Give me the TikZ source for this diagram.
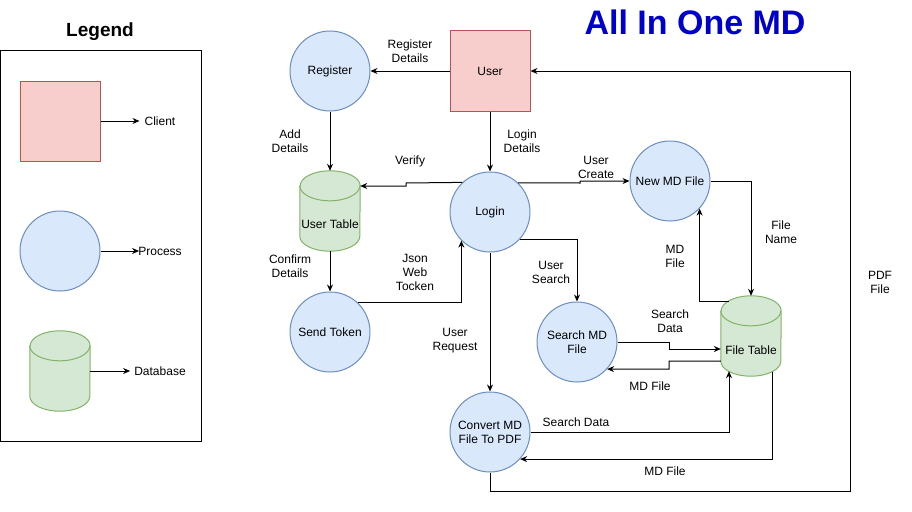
\documentclass[tikz,border=0pt]{standalone}
\usepackage{fontspec}
\setmainfont{Liberation Sans}
\usetikzlibrary{arrows.meta}
\definecolor{redfill}{HTML}{F8CECC}
\definecolor{redstroke}{HTML}{B85450}
\definecolor{bluefill}{HTML}{DAE8FC}
\definecolor{bluestroke}{HTML}{6C8EBF}
\definecolor{greenfill}{HTML}{D5E8D4}
\definecolor{greenstroke}{HTML}{82B366}
\definecolor{titleblue}{HTML}{0000CC}
\newcommand\lblfont{\fontsize{12}{14}\selectfont}
\newcommand\drawcyl[1]{%
  \path[fill=greenfill, draw=greenstroke, line width=1pt]
    ([yshift=-15pt]#1.north west) -- ([yshift=15pt]#1.south west)
    arc[start angle=180, end angle=360, x radius=30pt, y radius=15pt]
    -- ([yshift=-15pt]#1.north east)
    arc[start angle=0, end angle=180, x radius=30pt, y radius=15pt] -- cycle;
  \draw[greenstroke, line width=1pt] ([yshift=-15pt]#1.north west)
    arc[start angle=180, end angle=360, x radius=30pt, y radius=15pt];
}
\tikzset{
  proc/.style={circle, draw=bluestroke, fill=bluefill, line width=1pt, minimum size=80pt, inner sep=0pt, align=center, font=\lblfont},
  client/.style={rectangle, draw=redstroke, fill=redfill, line width=1pt, minimum width=80pt, minimum height=80pt, inner sep=0pt, font=\lblfont},
  dbnode/.style={rectangle, draw=none, minimum width=60pt, minimum height=80pt, inner sep=0pt},
  lab/.style={align=center, font=\lblfont, inner sep=0pt},
  flow/.style={draw=black, line width=1pt, -{Stealth[length=7pt,width=6pt]}},
  plain/.style={draw=black, line width=1pt},
}
\begin{document}
\begin{tikzpicture}[x=1pt,y=1pt]
\useasboundingbox (0,0) rectangle (912,-511);

% Title
\node[font=\bfseries\fontsize{34}{40}\selectfont, text=titleblue, inner sep=0pt] (title) at (695,-22) {All In One MD};

% Legend
\node[font=\bfseries\fontsize{19}{22}\selectfont, inner sep=0pt] (legendtitle) at (100,-32) {Legend};
\draw[plain] (0.5,-51) rectangle (201,-441);
\node[client] (lclient) at (60,-121) {};
\node[proc] (lproc) at (60,-251) {};
\node[dbnode] (ldb) at (60,-371) {};
\drawcyl{ldb}
\node[lab] (ltclient) at (160,-121) {Client};
\node[lab] (ltproc) at (160,-251) {Process};
\node[lab] (ltdb) at (160,-371) {Database};
\draw[flow] (lclient.east) -- ([xshift=-5pt]ltclient.west);
\draw[flow] (lproc.east) -- ([xshift=1pt]ltproc.west);
\draw[flow] (ldb.east) -- ([xshift=-4pt]ltdb.west);

% Main nodes
\node[client] (user) at (490,-71) {User};
\node[proc] (register) at (330,-71) {Register};
\node[proc] (login) at (490,-212) {Login};
\node[proc] (newmd) at (670,-181) {New MD File};
\node[proc] (search) at (577,-342) {Search MD\\File};
\node[proc] (convert) at (490,-432) {Convert MD\\File To PDF};
\node[proc] (sendtok) at (330,-332) {Send Token};
\node[dbnode] (usertable) at (330,-211) {};
\drawcyl{usertable}
\node[lab] (usertabletext) at (330,-224) {User Table};
\node[dbnode] (filetable) at (751,-336) {};
\drawcyl{filetable}
\node[lab] (filetabletext) at (751,-350) {File Table};

% Connectors
\draw[flow] (user.west) -- (register.east);
\draw[flow] (register.south) -- (usertable.north);
\draw[flow] (user.south) -- (login.north);
\draw[flow] (login.133.5) -- (406,-183) -- (406,-186) -- ([yshift=25pt]usertable.east);
\draw[flow] (login.46.5) -- (580,-183) -- (580,-181) -- (newmd.west);
\draw[flow] (newmd.east) -| (filetable.north);
\draw[flow] ([shift={(-22.4pt,35pt)}]filetable.center) -| (newmd.-43.5);
\draw[flow] (login.-42.5) -| (search.north);
\draw[flow] (search.east) -- (669,-342) -- (669,-349) -- ([yshift=-13pt]filetable.west);
\draw[flow] ([yshift=-25pt]filetable.west) -- (669,-361) -- (669,-369) -- (search.-42.5);
\draw[flow] (login.south) -- (convert.north);
\draw[flow] (convert.east) -| ([shift={(-22pt,-35.2pt)}]filetable.center);
\draw[flow] ([shift={(21pt,-35.7pt)}]filetable.center) |- (convert.-42.5);
\draw[flow] (convert.south) -- (490,-491) -- (850,-491) -- (850,-71) -- (user.east);
\draw[flow] (usertable.south) -- (sendtok.north);
\draw[flow] (sendtok.46.5) -| (login.225.6);

% Labels
\node[lab] (l1) at (410,-51) {Register\\Details};
\node[lab] (l2) at (290,-141) {Add\\Details};
\node[lab] (l3) at (522,-141) {Login\\Details};
\node[lab] (l4) at (410,-161) {Verify};
\node[lab] (l5) at (596,-167) {User\\Create};
\node[lab] (l6) at (781,-232) {File\\Name};
\node[lab] (l7) at (675,-256) {MD\\File};
\node[lab] (l8) at (551,-272) {User\\Search};
\node[lab] (l9) at (670,-321) {Search\\Data};
\node[lab] (l10) at (650,-386) {MD File};
\node[lab] (l11) at (455,-341) {User\\Request};
\node[lab] (l12) at (576,-422) {Search Data};
\node[lab] (l13) at (665,-471) {MD File};
\node[lab] (l14) at (880,-282) {PDF\\File};
\node[lab] (l15) at (290,-266) {Confirm\\Details};
\node[lab] (l16) at (415,-272) {Json\\Web\\Tocken};
\end{tikzpicture}
\end{document}
